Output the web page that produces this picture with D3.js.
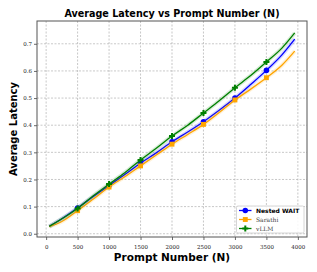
<!DOCTYPE html>
<html>
<head>
<meta charset="utf-8">
<script src="https://cdn.jsdelivr.net/npm/d3@7"></script>
<style>
  body { margin: 0; background: #fff; }
  svg { display: block; }
</style>
</head>
<body>
<div id="chart"></div>
<script>
// prompt counts sampled along the run
var prompts = [50, 250, 500, 750, 1000, 1250, 1500, 1750, 2000, 2250, 2500, 2750, 3000, 3250, 3500, 3750, 3950];
var nestedWait = [0.027, 0.055, 0.095, 0.137, 0.178, 0.218, 0.260, 0.298, 0.339, 0.375, 0.413, 0.455, 0.500, 0.550, 0.602, 0.660, 0.717];
var sarathi    = [0.026, 0.045, 0.085, 0.128, 0.172, 0.210, 0.250, 0.290, 0.330, 0.366, 0.403, 0.447, 0.493, 0.533, 0.575, 0.622, 0.673];
var vllm       = [0.027, 0.055, 0.093, 0.140, 0.183, 0.225, 0.272, 0.315, 0.360, 0.400, 0.445, 0.490, 0.538, 0.583, 0.633, 0.685, 0.740];
var markerPrompts = [500, 1000, 1500, 2000, 2500, 3000, 3500];
var xTicks = [0, 500, 1000, 1500, 2000, 2500, 3000, 3500, 4000];
var yTicks = [0.0, 0.1, 0.2, 0.3, 0.4, 0.5, 0.6, 0.7];

function init() {
    var series = [
        {name: "Nested WAIT", values: nestedWait, color: "#0000ff", symbol: d3.symbolCircle, size: 24, bold: true},
        {name: "Sarathi", values: sarathi, color: "#ffa500", symbol: d3.symbolSquare, size: 24, bold: false},
        {name: "vLLM", values: vllm, color: "#008000", symbol: d3.symbolCross, size: 20, bold: false}
    ];

    var w = 317, h = 272;
    var mLeft = 37, mRight = 307, mTop = 21, mBottom = 237;

    var x = d3.scaleLinear().domain([-145, 4145]).range([mLeft, mRight]);
    var y = d3.scaleLinear().domain([-0.012, 0.784]).range([mBottom, mTop]);

    var svg = d3.select("#chart").append("svg")
        .attr("width", w)
        .attr("height", h);

    // grid
    svg.append("g").selectAll("line").data(xTicks).enter().append("line")
        .attr("x1", function(d) { return x(d); })
        .attr("x2", function(d) { return x(d); })
        .attr("y1", mTop).attr("y2", mBottom)
        .attr("stroke", "#b0b0b0").attr("stroke-width", 0.7)
        .attr("stroke-dasharray", "2,1.5");
    svg.append("g").selectAll("line").data(yTicks).enter().append("line")
        .attr("y1", function(d) { return y(d); })
        .attr("y2", function(d) { return y(d); })
        .attr("x1", mLeft).attr("x2", mRight)
        .attr("stroke", "#b0b0b0").attr("stroke-width", 0.7)
        .attr("stroke-dasharray", "2,1.5");

    var xAxis = d3.axisBottom(x).tickValues(xTicks).tickSize(3).tickSizeOuter(0).tickFormat(d3.format("d"));
    var yAxis = d3.axisLeft(y).tickValues(yTicks).tickSize(3).tickSizeOuter(0).tickFormat(d3.format(".1f"));

    var gx = svg.append("g").attr("transform", "translate(0," + mBottom + ")").call(xAxis);
    var gy = svg.append("g").attr("transform", "translate(" + mLeft + ",0)").call(yAxis);
    [gx, gy].forEach(function(g) {
        g.select(".domain").remove();
        g.selectAll(".tick line").attr("stroke", "#444").attr("stroke-width", 0.8);
        g.selectAll("text").attr("font-family", "DejaVu Serif").attr("font-size", 5.5).attr("fill", "#222");
    });
    gx.selectAll("text").attr("dy", "1.1em");
    gy.selectAll("text").attr("x", -5);

    // frame
    svg.append("rect")
        .attr("x", mLeft).attr("y", mTop)
        .attr("width", mRight - mLeft).attr("height", mBottom - mTop)
        .attr("fill", "none").attr("stroke", "#555").attr("stroke-width", 1);

    var line = d3.line()
        .x(function(d, i) { return x(prompts[i]); })
        .y(function(d) { return y(d); })
        .curve(d3.curveMonotoneX);

    series.forEach(function(s) {
        // light band around each line
        svg.append("path").datum(s.values)
            .attr("d", line).attr("fill", "none")
            .attr("stroke", s.color).attr("stroke-opacity", 0.15).attr("stroke-width", 4);
        svg.append("path").datum(s.values)
            .attr("d", line).attr("fill", "none")
            .attr("stroke", s.color).attr("stroke-width", 1.3);
        svg.append("g").selectAll("path")
            .data(markerPrompts)
            .enter().append("path")
            .attr("d", d3.symbol().type(s.symbol).size(s.size))
            .attr("transform", function(p) {
                var v = s.values[prompts.indexOf(p)];
                return "translate(" + x(p) + "," + y(v) + ")";
            })
            .attr("fill", s.color);
    });

    // titles
    svg.append("text")
        .attr("x", 172).attr("y", 17)
        .attr("text-anchor", "middle")
        .attr("font-family", "DejaVu Sans").attr("font-weight", "bold").attr("font-size", 9.6)
        .text("Average Latency vs Prompt Number (N)");
    svg.append("text")
        .attr("x", 172).attr("y", 261)
        .attr("text-anchor", "middle")
        .attr("font-family", "DejaVu Sans").attr("font-weight", "bold").attr("font-size", 10.5)
        .text("Prompt Number (N)");
    svg.append("text")
        .attr("transform", "translate(17,129) rotate(-90)")
        .attr("text-anchor", "middle")
        .attr("font-family", "DejaVu Sans").attr("font-weight", "bold").attr("font-size", 10)
        .text("Average Latency");

    // legend
    var lg = svg.append("g");
    lg.append("rect")
        .attr("x", 236.5).attr("y", 206).attr("width", 67.5).attr("height", 27).attr("rx", 1.5)
        .attr("fill", "#fff").attr("fill-opacity", 0.85)
        .attr("stroke", "#ccc").attr("stroke-width", 0.8);
    series.forEach(function(s, i) {
        var ly = 210.5 + i * 9;
        lg.append("line")
            .attr("x1", 239).attr("x2", 251.5).attr("y1", ly).attr("y2", ly)
            .attr("stroke", s.color).attr("stroke-width", 1.3);
        lg.append("path")
            .attr("d", d3.symbol().type(s.symbol).size(s.size))
            .attr("transform", "translate(245.3," + ly + ")")
            .attr("fill", s.color);
        lg.append("text")
            .attr("x", 256).attr("y", ly + 2.2)
            .attr("font-family", s.bold ? "DejaVu Sans" : "DejaVu Serif")
            .attr("font-weight", s.bold ? "bold" : "normal")
            .attr("font-size", 6)
            .attr("fill", s.bold ? "#000" : "#444")
            .text(s.name);
    });
}
window.onload = init;
</script>
</body>
</html>
